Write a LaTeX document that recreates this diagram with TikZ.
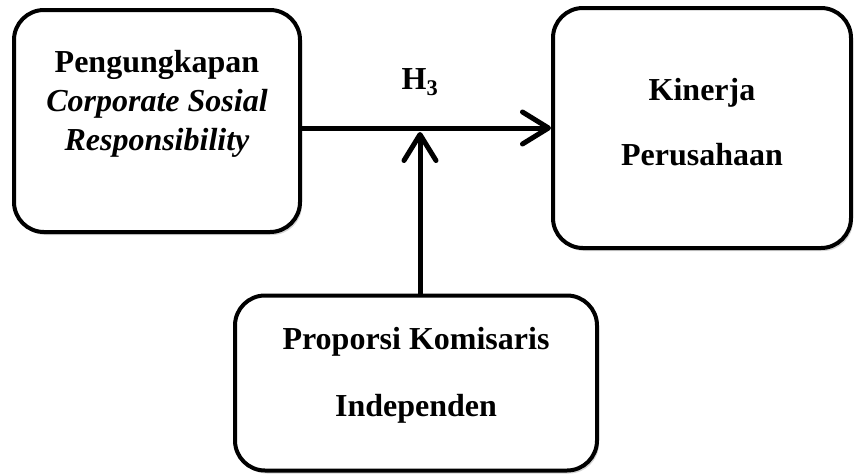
\documentclass[tikz,border=0pt]{standalone}
\usepackage{fontspec}
\setmainfont{Liberation Serif}
\usetikzlibrary{arrows.meta,shadows}

\begin{document}
\begin{tikzpicture}[
    x=1pt, y=-1pt,
    varbox/.style={rectangle, rounded corners=30pt, line width=4pt, draw=black, fill=white,
      drop shadow={shadow xshift=2pt, shadow yshift=-3pt, opacity=0.35}},
    vartext/.style={align=center, font=\fontsize{32}{39}\selectfont\bfseries},
    arr/.style={line width=5pt, -{Straight Barb[length=26pt, width=32pt, line width=5pt, round]}}
    ]

    % boxes
    \node[varbox, minimum width=286pt, minimum height=222pt] (cs) at (157,121) {};
    \node[varbox, minimum width=298pt, minimum height=240pt] (kp) at (702,128) {};
    \node[varbox, minimum width=362pt, minimum height=175pt] (pk) at (416,383) {};

    % texts
    \node[vartext] (csText) at ([yshift=17pt]cs.center) {Pengungkapan\\\textit{Corporate Sosial}\\\textit{Responsibility}};
    \node[vartext] (kpText) at ([yshift=6pt]kp.center) {Kinerja\\[26pt]Perusahaan};
    \node[vartext] (pkText) at ([yshift=8pt]pk.center) {Proporsi Komisaris\\[28pt]Independen};

    % arrows
    \coordinate (mod) at ([xshift=4pt]pk.north |- kp.west);
    \draw[arr] (kp.west -| cs.east) -- (kp.west);
    \draw[arr] ([xshift=4pt]pk.north) -- ([yshift=-4pt]mod);
    \node[vartext] (h3) at ([yshift=46pt]mod) {H\textsubscript{3}};

    \useasboundingbox (0,0) rectangle (854,474);
\end{tikzpicture}
\end{document}
